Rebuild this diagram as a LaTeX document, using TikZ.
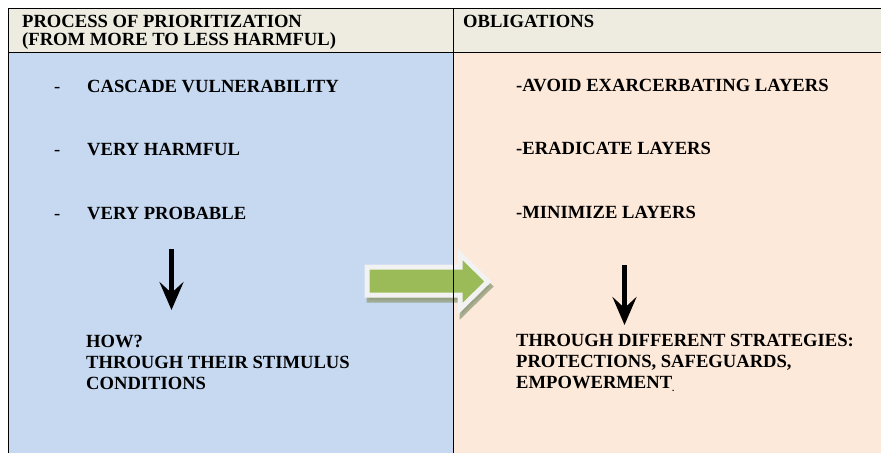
\documentclass[tikz,border=0pt]{standalone}
\usepackage{fontspec}
\setmainfont{Liberation Serif}
\usetikzlibrary{positioning}
\usetikzlibrary{arrows.meta}
\definecolor{headbg}{RGB}{238,236,225}
\definecolor{leftbg}{RGB}{198,217,241}
\definecolor{rightbg}{RGB}{253,233,217}
\definecolor{arrowgreen}{RGB}{155,187,89}
\definecolor{arrowshade}{RGB}{150,160,128}

\begin{document}
\begin{tikzpicture}[x=1pt, y=-1pt,
  txt/.style={anchor=base west, inner sep=0pt, align=left,
    font=\bfseries\fontsize{18.6}{21}\selectfont},
  headtxt/.style={txt, font=\bfseries\fontsize{18.6}{18}\selectfont},
  dashtxt/.style={txt, font=\fontsize{18.6}{21}\selectfont},
  rule/.style={line width=0.8pt, black},
  downarrow/.style={line width=5pt, -{Stealth[length=28pt,width=24pt,inset=11pt]}}]
\useasboundingbox (0,0) rectangle (881,453);

% backgrounds
\fill[headbg] (8,8) rectangle (881,52);
\fill[leftbg] (8,52) rectangle (453,453);
\fill[rightbg] (453,52) rectangle (881,453);

% green arrow
\fill[arrowshade, draw=arrowshade, line width=5pt, opacity=0.8, shift={(2,5)}]
  (367,267) -- (460,267) -- (460,254) -- (488,281.5) -- (460,309) -- (460,295) -- (367,295) -- cycle;
\filldraw[fill=arrowgreen, draw=white!95!black, line width=5pt, line join=miter]
  (367,267) -- (460,267) -- (460,254) -- (488,281.5) -- (460,309) -- (460,295) -- (367,295) -- cycle;

% table rules
\draw[rule] (8,8) -- (881,8);
\draw[rule] (8,52) -- (881,52);
\draw[rule] (8,8) -- (8,453);
\draw[rule] (453,8) -- (453,453);

% header
\node [headtxt] (h1) at (22,45) {PROCESS OF PRIORITIZATION\\(FROM MORE TO LESS HARMFUL)};
\node [headtxt] (h2) at (463,27) {OBLIGATIONS};

% left list
\node [txt] (l1) at (87,92) {CASCADE VULNERABILITY};
\node [txt] (l2) at (87,155) {VERY HARMFUL};
\node [txt] (l3) at (87,219) {VERY PROBABLE};
\node [dashtxt] (d1) at (54,92) {-};
\node [dashtxt] (d2) at (54,155) {-};
\node [dashtxt] (d3) at (54,219) {-};

% right list
\node [txt] (r1) at (516,91) {-AVOID EXARCERBATING LAYERS};
\node [txt] (r2) at (516,154) {-ERADICATE LAYERS};
\node [txt] (r3) at (516,218) {-MINIMIZE LAYERS};

% down arrows
\coordinate (la) at (171.5,249);
\coordinate (lb) at (171.5,310);
\draw[downarrow] (la) -- (lb);
\coordinate (ra) at (624.5,265);
\coordinate (rb) at (624.5,325);
\draw[downarrow] (ra) -- (rb);

% bottom texts
\node [txt] (how) at (86,389) {HOW?\\THROUGH THEIR STIMULUS\\CONDITIONS};
\node [txt] (strat) at (516,388) {THROUGH DIFFERENT STRATEGIES:\\PROTECTIONS, SAFEGUARDS,\\EMPOWERMENT\raisebox{-3pt}{\fontsize{9}{9}\selectfont .}};

\end{tikzpicture}
\end{document}
